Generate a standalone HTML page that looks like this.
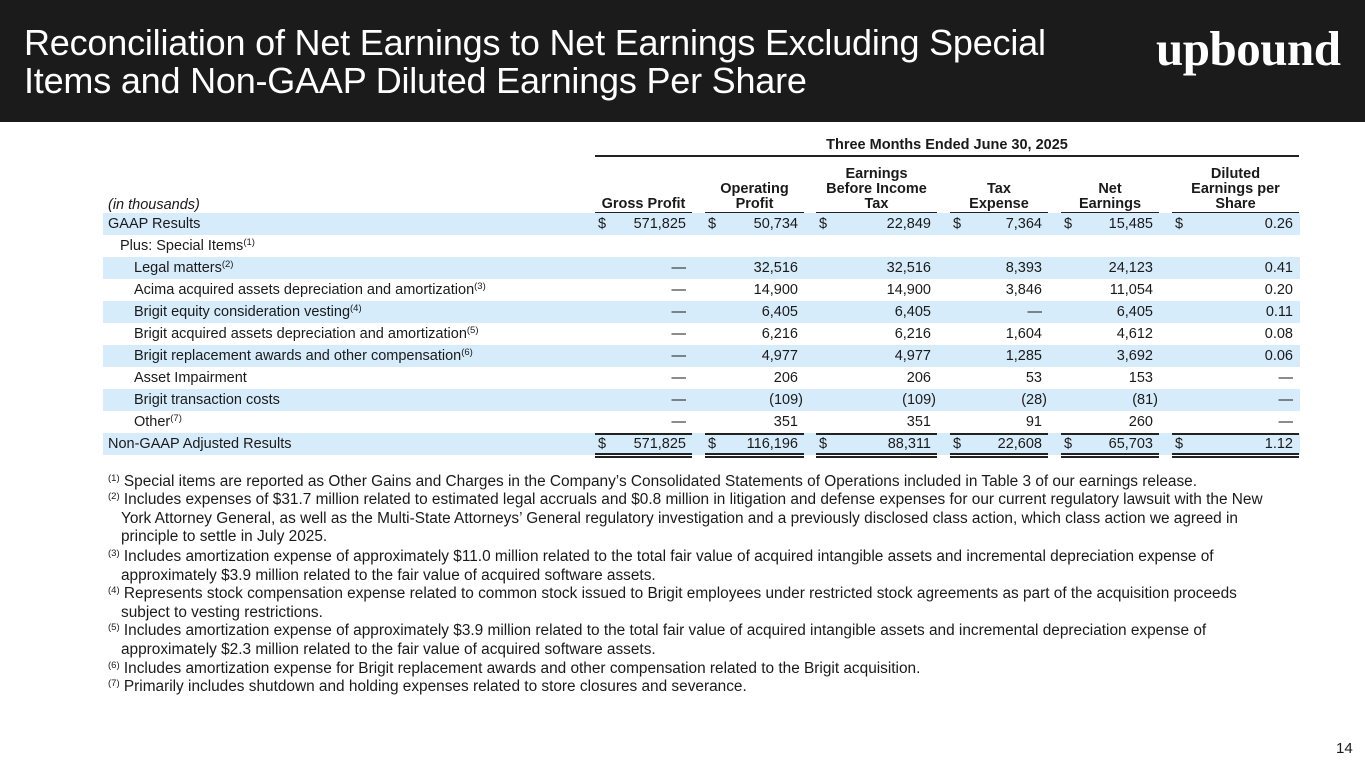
<!DOCTYPE html>
<html><head><meta charset="utf-8">
<style>
*{margin:0;padding:0;box-sizing:border-box}
body{width:1365px;height:768px;background:#fff;position:relative;overflow:hidden;font-family:"Liberation Sans",Arial,sans-serif;color:#1a1a1a}
.hdr{position:absolute;left:0;top:0;width:1365px;height:122px;background:#1b1b1b}
.title{position:absolute;left:24px;top:24px;font-size:36px;line-height:38px;color:#fff;letter-spacing:-0.2px}
.logo{position:absolute;left:1156px;top:20px;font-family:"Liberation Serif","DejaVu Serif",serif;font-weight:bold;font-size:49px;color:#fff;letter-spacing:-0.5px}
.abs{position:absolute;white-space:nowrap}
.band{position:absolute;left:103px;width:1197px;height:22px;background:#d6ecfb}
.lbl{font-size:14.5px;line-height:22px}
.num{font-size:14.5px;line-height:22px;text-align:right}
.ch{font-size:14.5px;font-weight:bold;line-height:15px;text-align:center}
.line{position:absolute;background:#222}
.fn{position:absolute;left:108px;font-size:15.4px;line-height:18.5px;white-space:nowrap}
.fn .c{padding-left:13px}
sup{font-size:9.5px;vertical-align:5px;line-height:0}
</style></head><body>
<div class="hdr"></div>
<div class="title">Reconciliation of Net Earnings to Net Earnings Excluding Special<br>Items and Non-GAAP Diluted Earnings Per Share</div>
<div class="logo">upbound</div>
<div id="tbl"></div>
<div>
<div class="fn" style="top:473px"><sup>(1)</sup> Special items are reported as Other Gains and Charges in the Company’s Consolidated Statements of Operations included in Table 3 of our earnings release.</div>
<div class="fn" style="top:491px"><sup>(2)</sup> Includes expenses of $31.7 million related to estimated legal accruals and $0.8 million in litigation and defense expenses for our current regulatory lawsuit with the New<div class="c">York Attorney General, as well as the Multi-State Attorneys’ General regulatory investigation and a previously disclosed class action, which class action we agreed in</div><div class="c">principle to settle in July 2025.</div></div>
<div class="fn" style="top:548px"><sup>(3)</sup> Includes amortization expense of approximately $11.0 million related to the total fair value of acquired intangible assets and incremental depreciation expense of<div class="c">approximately $3.9 million related to the fair value of acquired software assets.</div></div>
<div class="fn" style="top:585px"><sup>(4)</sup> Represents stock compensation expense related to common stock issued to Brigit employees under restricted stock agreements as part of the acquisition proceeds<div class="c">subject to vesting restrictions.</div></div>
<div class="fn" style="top:622px"><sup>(5)</sup> Includes amortization expense of approximately $3.9 million related to the total fair value of acquired intangible assets and incremental depreciation expense of<div class="c">approximately $2.3 million related to the fair value of acquired software assets.</div></div>
<div class="fn" style="top:660px"><sup>(6)</sup> Includes amortization expense for Brigit replacement awards and other compensation related to the Brigit acquisition.</div>
<div class="fn" style="top:678px"><sup>(7)</sup> Primarily includes shutdown and holding expenses related to store closures and severance.</div>
</div>
<div class="abs" style="left:1336px;top:740px;font-size:15px">14</div>
<script>
const columns=["Gross Profit","Operating<br>Profit","Earnings<br>Before Income<br>Tax","Tax<br>Expense","Net<br>Earnings","Diluted<br>Earnings per<br>Share"];
const rowLabels=["GAAP Results","Plus: Special Items<sup>(1)</sup>","Legal matters<sup>(2)</sup>","Acima acquired assets depreciation and amortization<sup>(3)</sup>","Brigit equity consideration vesting<sup>(4)</sup>","Brigit acquired assets depreciation and amortization<sup>(5)</sup>","Brigit replacement awards and other compensation<sup>(6)</sup>","Asset Impairment","Brigit transaction costs","Other<sup>(7)</sup>","Non-GAAP Adjusted Results"];
const rowIndent=[0,1,2,2,2,2,2,2,2,2,0];
const grossProfit=["571,825","","—","—","—","—","—","—","—","—","571,825"];
const operatingProfit=["50,734","","32,516","14,900","6,405","6,216","4,977","206","(109)","351","116,196"];
const ebit=["22,849","","32,516","14,900","6,405","6,216","4,977","206","(109)","351","88,311"];
const taxExpense=["7,364","","8,393","3,846","—","1,604","1,285","53","(28)","91","22,608"];
const netEarnings=["15,485","","24,123","11,054","6,405","4,612","3,692","153","(81)","260","65,703"];
const dilutedEps=["0.26","","0.41","0.20","0.11","0.08","0.06","—","—","—","1.12"];
const series=[grossProfit,operatingProfit,ebit,taxExpense,netEarnings,dilutedEps];
const dollarRows=[0,10];

const segL=[595,705,816,950,1061,1172], segR=[692,804,937,1048,1159,1299];
const T=document.getElementById('tbl');
function add(html,cls,style){const d=document.createElement('div');d.className='abs '+cls;d.style.cssText=style;d.innerHTML=html;T.appendChild(d);return d;}
let e=add('Three Months Ended June 30, 2025','ch','left:595px;width:704px;top:138px');


add('','line','left:595px;width:704px;top:155px;height:2px');
e=add('(in thousands)','lbl','left:108px;top:194px;font-style:italic');


columns.forEach((c,i)=>{
  const n=c.split('<br>').length;
  const h=add(c,'ch',`left:${segL[i]}px;width:${segR[i]-segL[i]}px;top:${212-n*15}px`);
  
  
  add('','line',`left:${segL[i]}px;width:${segR[i]-segL[i]}px;top:212px;height:1.5px`);
});
const rowTop=i=>213+i*22;
rowLabels.forEach((r,i)=>{
  const y=rowTop(i);
  if(i%2===0){const b=add('','band',`top:${y}px`);b.className='band';}
  const ind=[108,120,134][rowIndent[i]];
  const lb=add(r,'lbl',`left:${ind}px;top:${y}px`);
  
  
  series.forEach((s,j)=>{
    const v=s[i]; if(!v)return;
    const paren=v.startsWith('(');
    const right=segR[j]-6+(paren?5:0);
    const c=add(v,'num',`left:${right-120}px;width:120px;top:${y}px`);
    
    
    if(dollarRows.includes(i)){add('$','num',`left:${segL[j]+3}px;top:${y}px;text-align:left`);}
  });
});
segL.forEach((x,i)=>{
  const w=segR[i]-x;
  add('','line',`left:${x}px;width:${w}px;top:${rowTop(10)}px;height:1.5px`);
  add('','line',`left:${x}px;width:${w}px;top:${rowTop(10)+20}px;height:1.5px`);
  add('','line',`left:${x}px;width:${w}px;top:${rowTop(10)+23}px;height:1.5px`);
});
</script>
</body></html>
